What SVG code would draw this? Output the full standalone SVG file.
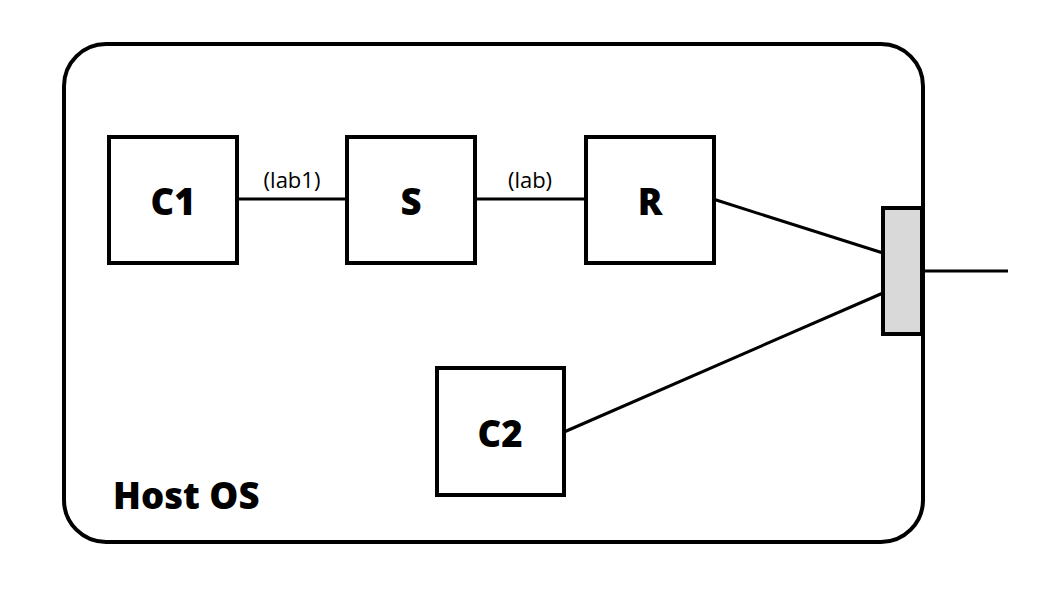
<svg xmlns="http://www.w3.org/2000/svg" width="1044" height="604" viewBox="0 0 1044 604">
<style>
.box{fill:#fff;stroke:#000;stroke-width:4}
.big{font-family:"Open Sans","Noto Sans",sans-serif;font-weight:800;font-size:36.5px;fill:#000}
.lbl{font-family:"Open Sans","Noto Sans",sans-serif;font-weight:400;font-size:22px;fill:#000}
.ln{stroke:#000;stroke-width:3;fill:none}
</style>
<rect width="1044" height="604" fill="#fff"/>
<g id="host">
<rect x="64" y="44" width="859" height="498" rx="42" ry="42" class="box"/>
<text x="113" y="509" class="big">Host OS</text>
</g>
<g id="connectors">
<line x1="237" y1="199" x2="347" y2="199" class="ln"/>
<text x="292" y="188" class="lbl" text-anchor="middle">(lab1)</text>
<line x1="475" y1="199" x2="586" y2="199" class="ln"/>
<text x="530" y="188" class="lbl" text-anchor="middle">(lab)</text>
<line x1="713" y1="199" x2="883" y2="253" class="ln"/>
<line x1="564" y1="432" x2="883" y2="293" class="ln"/>
<line x1="923" y1="271" x2="1008" y2="271" class="ln"/>
</g>
<g id="C1">
<rect x="109" y="137" width="128" height="126" class="box"/>
<text x="173" y="215" class="big" text-anchor="middle">C1</text>
</g>
<g id="S">
<rect x="347" y="137" width="128" height="126" class="box"/>
<text x="411" y="215" class="big" text-anchor="middle">S</text>
</g>
<g id="R">
<rect x="586" y="137" width="128" height="126" class="box"/>
<text x="650" y="215" class="big" text-anchor="middle">R</text>
</g>
<g id="C2">
<rect x="437" y="368" width="127" height="127" class="box"/>
<text x="500" y="447" class="big" text-anchor="middle">C2</text>
</g>
<g id="iface">
<rect x="883" y="208" width="39" height="126" fill="#d9d9d9" stroke="#000" stroke-width="4"/>
</g>
</svg>
